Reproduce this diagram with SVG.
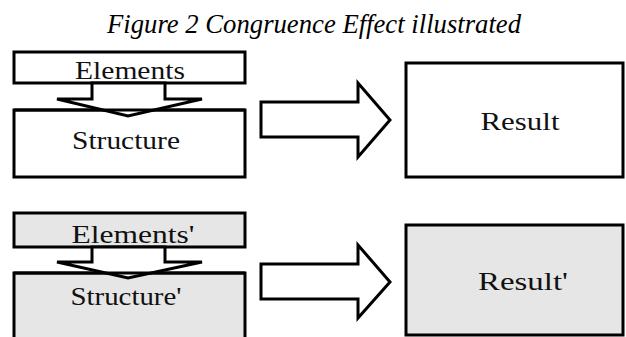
<svg xmlns="http://www.w3.org/2000/svg" width="626" height="337" viewBox="0 0 626 337">
<style>
.box{stroke:#000;stroke-width:3}
.w{fill:#fff}
.g{fill:#e6e6e6}
.ol{fill:none;stroke:#000;stroke-width:3}
.arr{fill:#fff;stroke:#000;stroke-width:3;stroke-linejoin:miter}
.t{font-family:"Liberation Serif","DejaVu Serif",serif;font-size:26px;fill:#111;text-anchor:middle}
.title{font-family:"Liberation Serif","DejaVu Serif",serif;font-size:27px;font-style:italic;fill:#000;text-anchor:middle}
</style>
<text class="title" x="314" y="33" textLength="414" lengthAdjust="spacingAndGlyphs">Figure 2 Congruence Effect illustrated</text>
<g id="structure1">
<rect class="box w" x="14" y="110" width="231" height="67"/>
</g>
<g id="elements1">
<rect class="box w" x="14" y="52" width="231" height="31"/>
<text class="t" x="130" y="79" textLength="110" lengthAdjust="spacingAndGlyphs">Elements</text>
</g>
<g id="result1">
<rect class="box w" x="406" y="63" width="217" height="114"/>
<text class="t" x="520" y="130" textLength="79" lengthAdjust="spacingAndGlyphs">Result</text>
</g>
<g id="structure2">
<rect class="box g" x="14" y="273" width="231" height="80"/>
</g>
<g id="elements2">
<rect class="box g" x="14" y="213" width="231" height="34"/>
<text class="t" x="133" y="243" textLength="123" lengthAdjust="spacingAndGlyphs">Elements'</text>
</g>
<g id="result2">
<rect class="box g" x="406" y="225" width="217" height="110"/>
<text class="t" x="523" y="290" textLength="90" lengthAdjust="spacingAndGlyphs">Result'</text>
</g>
<g id="connectors">
<polygon class="arr" points="92,83 92,99 57,99 128,116 202,99 165,99 165,83"/>
<polygon class="arr" points="261,102 358,102 358,83 390,120 358,157 358,137 261,137"/>
<polygon class="arr" points="92,247 92,262 57,262 128,278 202,262 165,262 165,247"/>
<polygon class="arr" points="261,264 358,264 358,245 390,282 358,318 358,299 261,299"/>
</g>
<g id="overlay">
<line class="ol" x1="14" y1="110" x2="245" y2="110"/>
<text class="t" x="126" y="149" textLength="108" lengthAdjust="spacingAndGlyphs">Structure</text>
<line class="ol" x1="14" y1="273" x2="245" y2="273"/>
<text class="t" x="126" y="305" textLength="111" lengthAdjust="spacingAndGlyphs">Structure'</text>
</g>
</svg>
